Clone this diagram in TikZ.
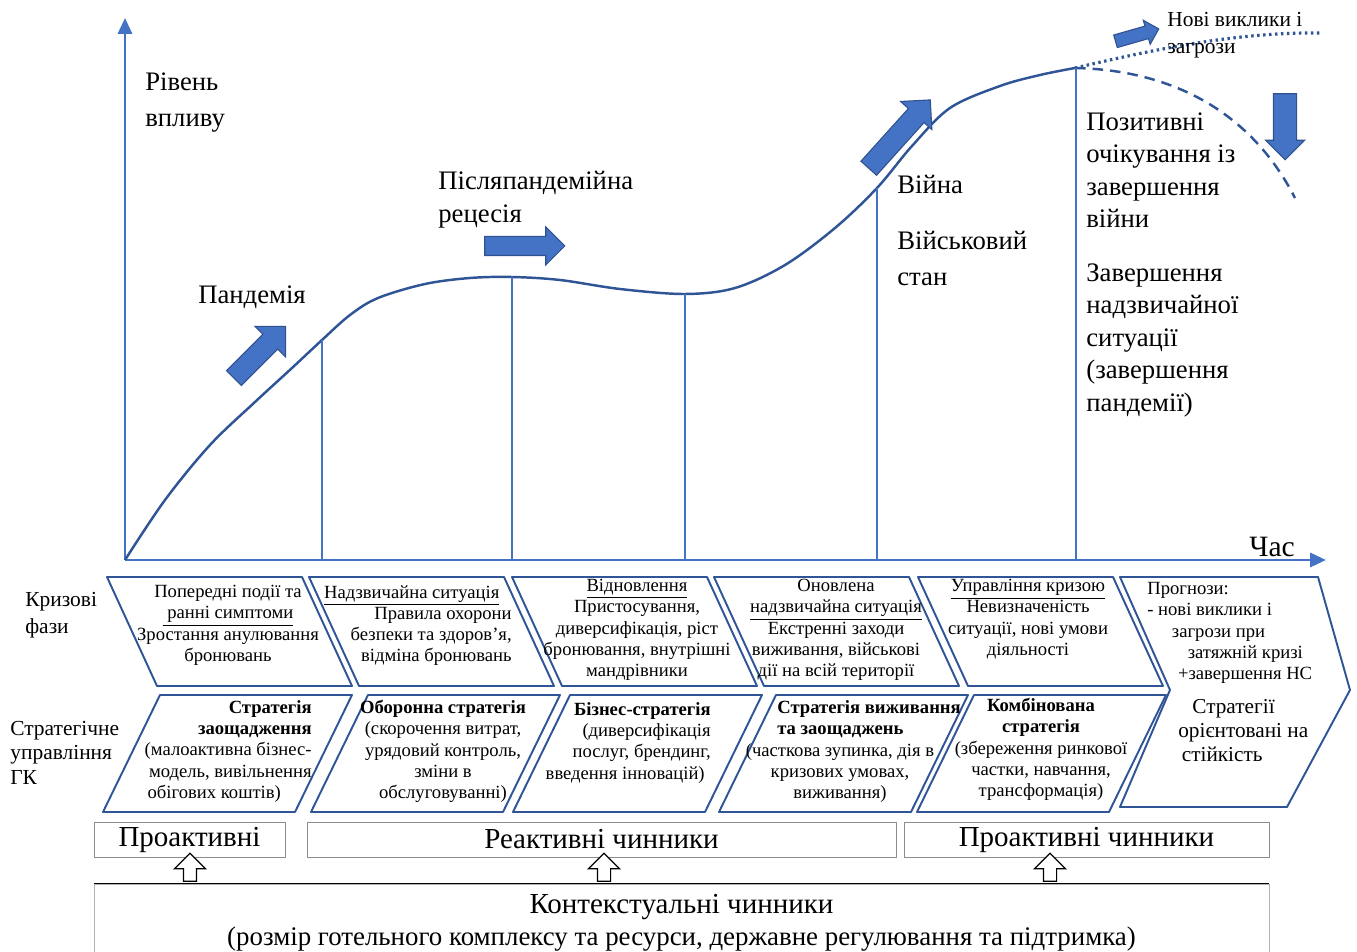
\documentclass[tikz,border=0pt]{standalone}
\usepackage{fontspec}
\setmainfont{Liberation Serif}
\usetikzlibrary{arrows.meta, positioning, shapes.arrows}
\definecolor{axisblue}{RGB}{68,114,196}
\definecolor{curveblue}{RGB}{47,85,151}
\definecolor{arrowedge}{RGB}{47,82,143}
\tikzstyle{axis}=[-{Triangle[length=9pt,width=8pt]}, line width=1.6pt, color=axisblue]
\tikzstyle{phaseline}=[line width=0.8pt, color=axisblue]
\tikzstyle{curve}=[line width=1.4pt, color=curveblue]

\begin{document}
\begin{tikzpicture}[x=0.02cm, y=-0.02cm,
  bigtext/.style={font=\fontsize{15.2}{18.5}\selectfont, inner sep=0pt, align=left},
  sidetext/.style={font=\fontsize{12.2}{15.5}\selectfont, inner sep=0pt, align=left},
  phasetext/.style={font=\fontsize{10.6}{12.1}\selectfont, inner sep=0pt, align=center},
  phasebox/.style={line width=1.1pt, draw=curveblue, line join=round},
  blockarrow/.style={single arrow, draw=arrowedge, fill=axisblue, line width=0.6pt,
                     inner xsep=0pt},
  openarrow/.style={single arrow, draw=black, fill=white, line width=0.7pt,
                    inner xsep=0pt, inner ysep=0.12cm, rotate=90, minimum height=0.56cm,
                    single arrow head extend=0.18cm},
  factorbox/.style={draw=black!45, inner sep=0pt, font=\fontsize{16.5}{18.5}\selectfont,
                    align=center}
]
\useasboundingbox (0,0) rectangle (1357,952);

% axes and curve
\coordinate (origin) at (125,560);
\coordinate (ytop) at (125,18);
\coordinate (xend) at (1326,560);
\coordinate (peak) at (1075,68);
\draw[axis] (origin) -- (ytop);
\draw[axis] (origin) -- (xend);
\draw[curve] plot[smooth, tension=0.55] coordinates {(125,560) (165,500) (210,445)
  (255,402) (292,368) (322,340) (350,315) (378,298) (425,284) (470,278) (512,277)
  (560,280) (620,289) (685,294) (735,288) (785,265) (835,228) (877,188) (912,146)
  (950,108) (1000,86) (1040,75) (1075,68)};
\draw[curve, dotted, line width=1.8pt] (peak) .. controls (1160,48) and (1240,32) .. (1320,33);
\draw[curve, dashed, dash pattern=on 6pt off 4pt] (peak) .. controls (1170,70) and (1250,110) .. (1295,198);
\foreach \x/\y in {322/340, 512/277, 685/294, 877/188, 1076/68}
  \draw[phaseline] (\x,\y) -- (\x,560);

\node[blockarrow, minimum height=1.46cm, inner ysep=0.2cm,
      single arrow head extend=0.22cm, rotate=45] (arrpand) at (256,356) {};
\node[blockarrow, minimum height=1.6cm, inner ysep=0.18cm,
      single arrow head extend=0.19cm] (arrrec) at (520,246) {};
\node[blockarrow, minimum height=1.84cm, inner ysep=0.2cm,
      single arrow head extend=0.21cm, rotate=48] (arrwar) at (896,138) {};
\node[blockarrow, minimum height=0.9cm, inner ysep=0.12cm,
      single arrow head extend=0.12cm, rotate=16] (arrnew) at (1134,36) {};
\node[blockarrow, minimum height=1.32cm, inner ysep=0.22cm,
      single arrow head extend=0.16cm, rotate=-90] (arrdown) at (1285,121) {};

% labels of the chart
\node[bigtext, anchor=north west] (level) at (145,72) {Рівень\\[2.5pt]впливу};
\node[bigtext] (pandemic) at (252,297) {Пандемія};
\node[bigtext, anchor=north west] (recession) at (438,171) {Післяпандемійна\\рецесія};
\node[bigtext, anchor=west] (war) at (897,184) {Війна};
\node[bigtext, anchor=north west] (martial) at (897,231) {Військовий\\[2pt]стан};
\node[bigtext, anchor=north west] (hopes) at (1086,112) {Позитивні\\очікування із\\завершення\\війни};
\node[bigtext, anchor=north west] (endemerg) at (1086,263)
  {Завершення\\надзвичайної\\ситуації\\(завершення\\пандемії)};
\node[sidetext, font=\fontsize{12.2}{15.3}\selectfont, anchor=north west] (threats)
  at (1167,12) {Нові виклики і\\загрози};
\node[bigtext, font=\fontsize{16.8}{18.5}\selectfont] (time) at (1272,547) {Час};

% crisis phases and strategies
\node[sidetext, anchor=north west] (phases) at (25,592) {Кризові\\фази};
\node[sidetext, font=\fontsize{12.2}{13.8}\selectfont, anchor=north west] (mgmt)
  at (10,721) {Стратегічне\\управління\\ГК};

\foreach \x in {107,309,512,714,918}
  \draw[phasebox] (\x,577) -- ++(195,0) -- ++(50,109) -- ++(-195,0) -- cycle;
\foreach \x in {160,368,570,776,974}
  \draw[phasebox] (\x,695) -- ++(192,0) -- ++(-57,117) -- ++(-192,0) -- cycle;
\draw[phasebox] (1120,577) -- (1318,577) -- (1350,690) -- (1287,807) -- (1120,807)
  -- (1170,690) -- cycle;

\node[phasetext, anchor=north] (ph1) at (228,585)
  {Попередні події та\\\underline{\ ранні симптоми}\\Зростання анулювання\\бронювань};
\node[phasetext, align=right, anchor=north east] (ph2) at (512,585)
  {\underline{Надзвичайна ситуація}\hspace*{7pt}\\Правила охорони\\безпеки та здоров’я,\\відміна бронювань};
\node[phasetext, anchor=north] (ph3) at (637,579)
  {\underline{Відновлення}\\Пристосування,\\диверсифікація, ріст\\бронювання, внутрішні\\мандрівники};
\node[phasetext, anchor=north] (ph4) at (836,579)
  {Оновлена\\\underline{надзвичайна ситуація}\\Екстренні заходи\\виживання, військові\\дії на всій території};
\node[phasetext, anchor=north] (ph5) at (1028,579)
  {\underline{Управління кризою}\\Невизначеність\\ситуації, нові умови\\діяльності};
\node[phasetext, align=left, anchor=north west] (ph6) at (1147,582)
  {Прогнози:\\- нові виклики і\\\hspace*{14pt}загрози при\\\hspace*{23pt}затяжній кризі\\\hspace*{17.5pt}+завершення НС};

\node[phasetext, align=right, anchor=north east] (st1) at (312,700)
  {\textbf{Стратегія}\\\textbf{заощадження}\\(малоактивна бізнес-\\модель, вивільнення\hspace*{8.5pt}\\обігових коштів)\hspace*{17.5pt}};
\node[phasetext, anchor=north] (st2) at (443,700)
  {\textbf{Оборонна стратегія}\\(скорочення витрат,\\урядовий контроль,\\зміни в\\обслуговуванні)};
\node[phasetext, align=right, anchor=north east] (st3) at (711,702)
  {\textbf{Бізнес-стратегія}\\(диверсифікація\\послуг, брендинг,\\введення інновацій)\hspace*{3.4pt}};
\node[phasetext, align=left, anchor=north west] (st4head) at (777,700)
  {\textbf{Стратегія виживання}\\\textbf{та заощаджень}};
\node[phasetext, anchor=north] (st4) at (840,743)
  {(часткова зупинка, дія в\\кризових умовах,\\виживання)};
\node[phasetext, anchor=north] (st5) at (1041,698)
  {\textbf{Комбінована}\\\textbf{стратегія}\\(збереження ринкової\\частки, навчання,\\трансформація)};
\node[phasetext, font=\fontsize{12.1}{13.6}\selectfont, align=left, anchor=north west]
  (st6) at (1178,699) {\hspace*{8pt}Стратегії\\орієнтовані на\\\hspace*{2pt}стійкість};

% factors
\node[factorbox, minimum width=3.82cm, minimum height=0.7cm] (proact1) at (189.5,839.5) {Проактивні};
\node[factorbox, minimum width=11.78cm, minimum height=0.7cm] (react) at (601.5,839.5) {Реактивні чинники};
\node[factorbox, minimum width=7.3cm, minimum height=0.7cm] (proact2) at (1086.5,839.5) {Проактивні чинники};
\node[factorbox, draw=black!30, minimum width=23.5cm, minimum height=1.56cm] (context) at (681.5,923)
  {Контекстуальні чинники\\\fontsize{15.3}{17}\selectfont(розмір готельного комплексу та ресурси, державне регулювання та підтримка)};
\draw[line width=0.9pt] (context.north west) -- (context.north east);

\node[openarrow] (up1) at (190,870.5) {};
\node[openarrow] (up2) at (604,870.5) {};
\node[openarrow] (up3) at (1050,870.5) {};
\end{tikzpicture}
\end{document}
